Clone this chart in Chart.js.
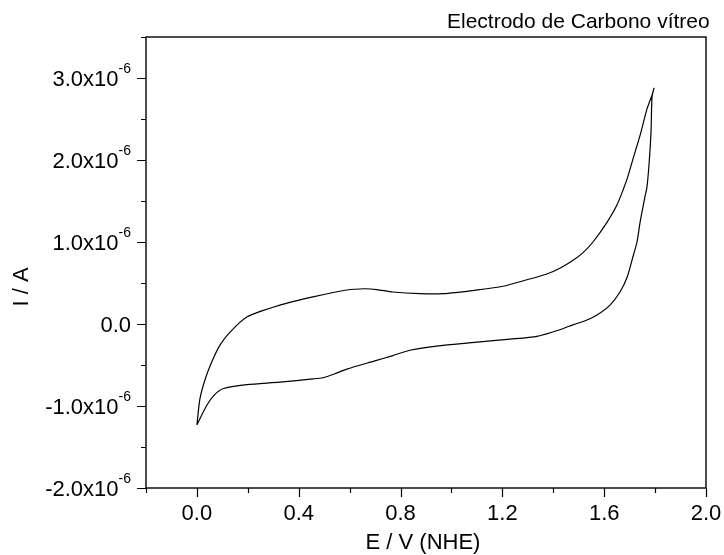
<!DOCTYPE html>
<html>
<head>
<meta charset="utf-8">
<script src="https://cdn.jsdelivr.net/npm/chart.js@4/dist/chart.umd.min.js"></script>
<style>
  html, body { margin: 0; padding: 0; background: #fff; }
  #wrap { width: 724px; height: 555px; }
</style>
</head>
<body>
<div id="wrap"><canvas id="cvChart"></canvas></div>
<script>
// Voltametría cíclica (E en V vs NHE, I en µA)
const forwardE = [0.000, 0.012, 0.035, 0.063, 0.090, 0.130, 0.196, 0.326, 0.456, 0.589, 0.660, 0.707, 0.770, 0.876, 0.967, 1.100, 1.202, 1.297, 1.375, 1.426, 1.475, 1.517, 1.556, 1.611, 1.650, 1.690, 1.713, 1.741, 1.768, 1.788, 1.796];
const forwardI = [-1.23, -0.91, -0.65, -0.43, -0.26, -0.10, 0.085, 0.23, 0.33, 0.415, 0.43, 0.42, 0.39, 0.37, 0.37, 0.415, 0.46, 0.54, 0.61, 0.68, 0.77, 0.87, 1.00, 1.24, 1.45, 1.77, 2.01, 2.30, 2.62, 2.79, 2.88];
const reverseE = [1.796, 1.788, 1.784, 1.776, 1.768, 1.760, 1.741, 1.729, 1.713, 1.690, 1.662, 1.623, 1.572, 1.525, 1.477, 1.426, 1.336, 1.230, 1.100, 0.967, 0.837, 0.770, 0.699, 0.589, 0.540, 0.495, 0.456, 0.326, 0.196, 0.102, 0.067, 0.039, 0.000];
const reverseI = [2.88, 2.77, 2.34, 1.94, 1.67, 1.55, 1.24, 1.00, 0.82, 0.57, 0.39, 0.23, 0.11, 0.04, -0.01, -0.07, -0.15, -0.185, -0.22, -0.26, -0.32, -0.385, -0.45, -0.55, -0.61, -0.655, -0.67, -0.71, -0.74, -0.79, -0.87, -0.99, -1.23];

// Ticks de los ejes
const xMajorTicks = [0.0, 0.4, 0.8, 1.2, 1.6, 2.0];
const xMinorTicks = [-0.2, 0.2, 0.6, 1.0, 1.4, 1.8];
const yMajorTicks = [-2, -1, 0, 1, 2, 3];
const yMinorTicks = [-1.5, -0.5, 0.5, 1.5, 2.5, 3.5];

const chartTitle = "Electrodo de Carbono vítreo";
const xTitle = "E / V (NHE)";
const yTitle = "I / A";
const FONT = "'Liberation Sans', Arial, sans-serif";

// Unir las dos ramas del ciclo en un solo trazo
const cvPoints = forwardE.map((e, i) => ({ x: e, y: forwardI[i] }))
  .concat(reverseE.map((e, i) => ({ x: e, y: reverseI[i] })));

// Marco, ticks, etiquetas con superíndice y títulos
const framePlugin = {
  id: "frame",
  afterDraw(chart) {
    const ctx = chart.ctx;
    const a = chart.chartArea;
    const xs = chart.scales.x, ys = chart.scales.y;
    ctx.save();
    ctx.strokeStyle = "#000";
    ctx.lineWidth = 1.4;
    ctx.strokeRect(a.left, a.top, a.right - a.left, a.bottom - a.top);

    ctx.lineWidth = 1.2;
    ctx.beginPath();
    xMajorTicks.forEach((v) => { const px = Math.round(xs.getPixelForValue(v)) + 0.5; ctx.moveTo(px, a.bottom); ctx.lineTo(px, a.bottom + 9); });
    xMinorTicks.forEach((v) => { const px = Math.round(xs.getPixelForValue(v)) + 0.5; ctx.moveTo(px, a.bottom); ctx.lineTo(px, a.bottom + 5); });
    yMajorTicks.forEach((v) => { const py = Math.round(ys.getPixelForValue(v)) + 0.5; ctx.moveTo(a.left, py); ctx.lineTo(a.left - 9, py); });
    yMinorTicks.forEach((v) => { const py = Math.round(ys.getPixelForValue(v)) + 0.5; ctx.moveTo(a.left, py); ctx.lineTo(a.left - 5, py); });
    ctx.stroke();

    ctx.fillStyle = "#000";
    ctx.textBaseline = "alphabetic";

    // Etiquetas del eje X
    ctx.font = "22px " + FONT;
    ctx.textAlign = "center";
    xMajorTicks.forEach((v) => {
      ctx.fillText(v.toFixed(1), xs.getPixelForValue(v), 520);
    });

    // Etiquetas del eje Y: "3.0x10" con "-6" en superíndice
    const rightX = a.left - 15;
    yMajorTicks.forEach((v) => {
      const py = ys.getPixelForValue(v);
      if (v === 0) {
        ctx.font = "22px " + FONT;
        ctx.textAlign = "right";
        ctx.fillText("0.0", rightX, py + 8);
        return;
      }
      ctx.font = "14px " + FONT;
      const sup = "-6";
      const supW = ctx.measureText(sup).width;
      ctx.textAlign = "left";
      ctx.fillText(sup, rightX - supW, py - 5);
      ctx.font = "22px " + FONT;
      ctx.textAlign = "right";
      ctx.fillText(v.toFixed(1) + "x10", rightX - supW, py + 8);
    });

    // Título
    ctx.font = "21px " + FONT;
    ctx.textAlign = "left";
    ctx.fillText(chartTitle, 447, 28);

    // Título del eje X
    ctx.font = "22px " + FONT;
    ctx.textAlign = "center";
    ctx.fillText(xTitle, 423, 549);

    // Título del eje Y
    ctx.translate(22, 287);
    ctx.rotate(-Math.PI / 2);
    ctx.textBaseline = "middle";
    ctx.fillText(yTitle, 0, 0);
    ctx.restore();
  },
};

new Chart(document.getElementById("cvChart"), {
  type: "scatter",
  data: {
    datasets: [{
      data: cvPoints,
      showLine: true,
      borderColor: "#000",
      borderWidth: 1.2,
      pointRadius: 0,
      tension: 0.25,
    }],
  },
  options: {
    responsive: true,
    maintainAspectRatio: false,
    animation: false,
    layout: { padding: { top: 37, right: 18, left: 0, bottom: 0 } },
    plugins: { legend: { display: false }, tooltip: { enabled: false } },
    scales: {
      x: {
        type: "linear",
        min: -0.2,
        max: 2.0,
        afterBuildTicks: (scale) => { scale.ticks = xMajorTicks.map((v) => ({ value: v })); },
        afterFit: (scale) => { scale.height = 67; },
        grid: { display: false },
        border: { display: false },
        ticks: { display: false },
      },
      y: {
        type: "linear",
        min: -2,
        max: 3.5,
        afterBuildTicks: (scale) => { scale.ticks = yMajorTicks.map((v) => ({ value: v })); },
        afterFit: (scale) => { scale.width = 146; },
        grid: { display: false },
        border: { display: false },
        ticks: { display: false },
      },
    },
  },
  plugins: [framePlugin],
});
</script>
</body>
</html>
